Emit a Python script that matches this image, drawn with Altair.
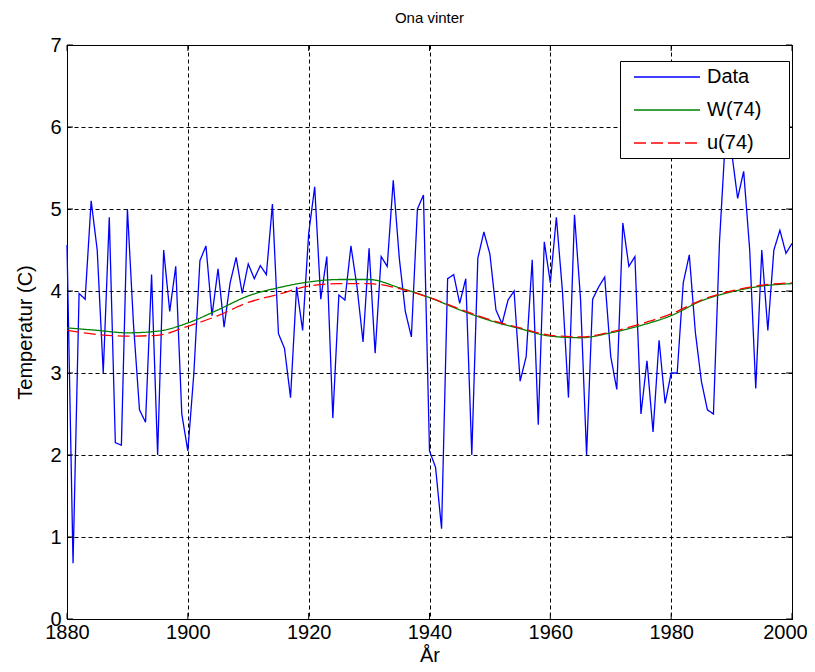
import altair as alt
import pandas as pd

# ---- data ----
years = list(range(1880, 2001))
data_vals = [
    4.56, 0.68, 3.97, 3.90, 5.10, 4.50, 3.00, 4.90, 2.15, 2.12,   # 1880-1889
    5.00, 3.60, 2.55, 2.40, 4.20, 2.00, 4.50, 3.75, 4.30, 2.50,   # 1890-1899
    2.05, 3.00, 4.37, 4.55, 3.70, 4.27, 3.56, 4.10, 4.41, 3.97,   # 1900-1909
    4.33, 4.15, 4.31, 4.20, 5.06, 3.48, 3.30, 2.70, 4.05, 3.52,   # 1910-1919
    4.70, 5.27, 3.90, 4.42, 2.45, 3.95, 3.89, 4.55, 4.05, 3.38,   # 1920-1929
    4.52, 3.24, 4.42, 4.30, 5.35, 4.40, 3.75, 3.44, 5.00, 5.17,   # 1930-1939
    2.05, 1.85, 1.10, 4.15, 4.20, 3.85, 4.15, 2.00, 4.40, 4.72,   # 1940-1949
    4.45, 3.77, 3.60, 3.89, 4.00, 2.90, 3.20, 4.38, 2.37, 4.60,   # 1950-1959
    4.10, 4.90, 4.00, 2.70, 4.93, 3.90, 2.00, 3.90, 4.05, 4.17,   # 1960-1969
    3.20, 2.80, 4.83, 4.30, 4.42, 2.50, 3.15, 2.28, 3.40, 2.63,   # 1970-1979
    3.00, 3.00, 4.10, 4.44, 3.50, 2.90, 2.55, 2.50, 4.60, 5.90,   # 1980-1989
    5.70, 5.13, 5.46, 4.50, 2.81, 4.50, 3.52, 4.50, 4.74, 4.46,   # 1990-1999
    4.58,                                                         # 2000
]
smooth_years = list(range(1880, 2001, 5))
w74 = [3.55, 3.52, 3.49, 3.51, 3.61, 3.77, 3.94, 4.04, 4.11, 4.14, 4.14, 4.04, 3.92,
       3.77, 3.64, 3.54, 3.45, 3.43, 3.49, 3.58, 3.70, 3.88, 3.99, 4.06, 4.09]
u74 = [3.52, 3.47, 3.45, 3.46, 3.57, 3.70, 3.86, 3.96, 4.06, 4.09, 4.09, 4.03, 3.92,
       3.78, 3.65, 3.55, 3.46, 3.44, 3.50, 3.60, 3.72, 3.89, 4.00, 4.07, 4.10]

series_names = ["Data", "W(74)", "u(74)"]
series_colors = ["#0000ff", "#008000", "#ff0000"]
series_dash = [[1, 0], [1, 0], [12, 5]]
x_ticks = list(range(1880, 2001, 20))
y_ticks = list(range(0, 8))

FONT = "Liberation Sans"
FS = 20
W, H = 725, 574

df_data = pd.DataFrame({"year": years, "temp": data_vals, "series": series_names[0]})
df_smooth = pd.concat([
    pd.DataFrame({"year": smooth_years, "temp": w74, "series": series_names[1]}),
    pd.DataFrame({"year": smooth_years, "temp": u74, "series": series_names[2]}),
])

x_enc = alt.X("year:Q", scale=alt.Scale(domain=[1880, 2000], nice=False, zero=False),
              axis=alt.Axis(values=x_ticks, format="d", title="År", tickSize=0,
                            labelPadding=3, titlePadding=3, labelFontSize=FS,
                            titleFontSize=FS, labelFont=FONT, titleFont=FONT,
                            titleFontWeight="normal", labelColor="black", titleColor="black",
                            domainColor="black", gridColor="black", gridDash=[4, 3],
                            gridOpacity=1, labelFlush=False,
                            labelOffset={"condition": {"test": "datum.value == 2000", "value": -7},
                                         "value": 0}))
y_enc = alt.Y("temp:Q", scale=alt.Scale(domain=[0, 7], nice=False),
              axis=alt.Axis(values=y_ticks, format="d", title="Temperatur (C)", tickSize=0,
                            labelPadding=6, titlePadding=14, labelFontSize=FS,
                            titleFontSize=FS, labelFont=FONT, titleFont=FONT,
                            titleFontWeight="normal", labelColor="black", titleColor="black",
                            domainColor="black", gridColor="black", gridDash=[4, 3],
                            gridOpacity=1, labelFlush=False))

legend = alt.Legend(title=None, orient="none", legendX=553, legendY=16,
                    fillColor="white", strokeColor="black", padding=5,
                    symbolType="M-0.2,0L6.4,0", symbolSize=400, symbolStrokeWidth=1.3,
                    labelFontSize=FS, labelFont=FONT, labelColor="black",
                    rowPadding=12, labelOffset=60,
                    labelExpr="datum.label + '" + "\u00a0" * 4 + "\u200b'")

color_enc = alt.Color("series:N", scale=alt.Scale(domain=series_names, range=series_colors),
                      legend=legend)
dash_enc = alt.StrokeDash("series:N", scale=alt.Scale(domain=series_names, range=series_dash),
                          legend=legend)

blue = alt.Chart(df_data).mark_line(strokeWidth=1.3).encode(
    x=x_enc, y=y_enc, color=color_enc, strokeDash=dash_enc)
smooth = alt.Chart(df_smooth).mark_line(strokeWidth=1.3, interpolate="monotone").encode(
    x="year:Q", y="temp:Q", color=color_enc, strokeDash=dash_enc)

df_xt = pd.DataFrame({"t": x_ticks})
df_yt = pd.DataFrame({"t": y_ticks})
tick_bot = alt.Chart(df_xt).mark_rule(color="black").encode(
    x="t:Q", y=alt.value(H), y2=alt.value(H - 6))
tick_top = alt.Chart(df_xt).mark_rule(color="black").encode(
    x="t:Q", y=alt.value(0), y2=alt.value(6))
tick_left = alt.Chart(df_yt).mark_rule(color="black").encode(
    y="t:Q", x=alt.value(0), x2=alt.value(6))
tick_right = alt.Chart(df_yt).mark_rule(color="black").encode(
    y="t:Q", x=alt.value(W), x2=alt.value(W - 6))

chart = alt.layer(blue, smooth, tick_bot, tick_top, tick_left, tick_right).properties(
    width=W, height=H,
    title=alt.TitleParams("Ona vinter", fontSize=15, font=FONT, fontWeight="normal",
                          color="black", offset=9, anchor="middle"),
    autosize=alt.AutoSizeParams(type="none"),
    padding={"left": 59, "top": 37, "right": 15, "bottom": 45},
    background="white",
).configure_view(stroke="black", strokeWidth=1)

chart.save("out.html", embed_options={"renderer": "svg", "actions": False})
